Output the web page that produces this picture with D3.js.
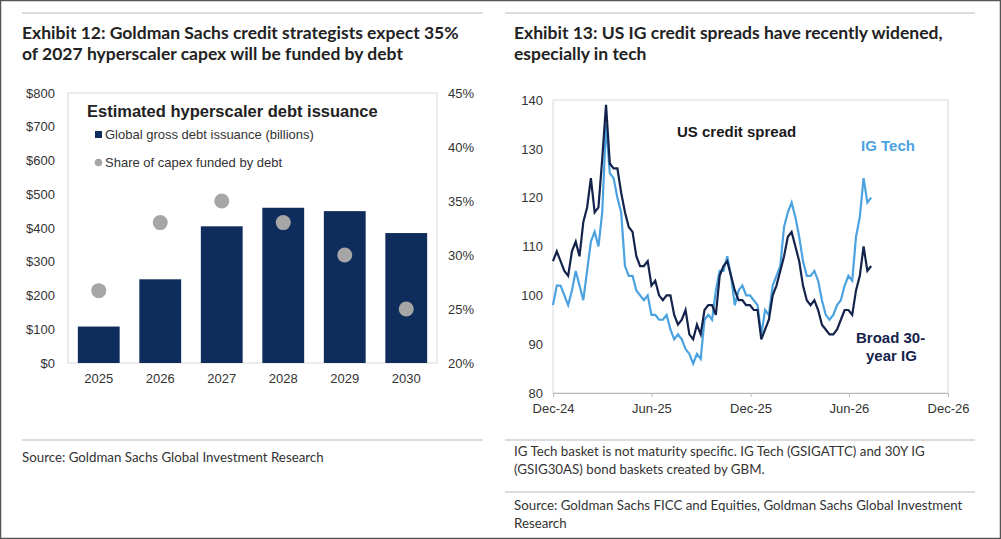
<!DOCTYPE html>
<html><head><meta charset="utf-8">
<script src="https://cdn.jsdelivr.net/npm/d3@7"></script>
<style>body{margin:0;background:#fff}svg{display:block}</style>
</head><body>
<svg id="c" width="1001" height="539"></svg>
<script>
const years = ["2025","2026","2027","2028","2029","2030"];
const issuance = [108, 248, 405, 460, 450, 385];
const shareCapex = [26.7, 33.0, 35.0, 33.0, 30.0, 25.0];
const leftTicks = [0,100,200,300,400,500,600,700,800];
const rightTicks = [20,25,30,35,40,45];

const weekStart = "2024-12-01";
const broadIG = [107,109,107,105,104,109,111,108,115,118,124,117,118,128,139,127,126,126,121,117,114,113,108,106,106,107,102,103,100,99,100,100,96,94,95,97,92,91,94,92,97,98,98,96,104,106,107,104,101,99,99,98,98,97,97,91,93,95,100,102,105,108,112,113,110,107,102,99,98,99,97,94,93,92,92,93,95,97,97,96,101,104,110,105,106];
const igTech = [98,102,102,100,98,101,105,102,99,105,111,113,110,117,135,125,124,120,117,106,104,104,101,100,99,100,96,96,95,95,96,93,91,92,91,89,88,86,88,87,95,96,95,101,105,105,108,104,98,101,102,100,100,99,98,92,97,96,102,104,106,114,117,119,116,112,107,104,104,105,103,99,96,95,96,98,99,102,104,103,112,116,124,119,120];
const spreadTicks = [80,90,100,110,120,130,140];
const dateTicks = ["2024-12-01","2025-06-01","2025-12-01","2026-06-01","2026-12-01"];

const svg = d3.select("#c");
const NAVY = "#0f2d5c", GREY = "#a6a6a6", LBLUE = "#4ba2e0", DARK = "#14234b";
const chartFont = "Liberation Sans, Arial, sans-serif";
const textFont = "Lato, sans-serif";

svg.append("rect").attr("x",0.5).attr("y",0.5).attr("width",1000).attr("height",538).attr("fill","none").attr("stroke","#555").attr("stroke-width",1.5);
[[22,483,13],[505,975,13],[22,483,440],[505,975,440],[505,975,492]].forEach(([a,b,y])=>
  svg.append("line").attr("x1",a).attr("x2",b).attr("y1",y).attr("y2",y).attr("stroke","#d0d0d0").attr("stroke-width",1.5));

function title(x, lines){
  lines.forEach((t,i)=>svg.append("text").attr("x",x).attr("y",39+i*21).text(t)
    .attr("font-family",textFont).attr("font-weight","bold").attr("font-size",17.5).attr("fill","#222"));
}
title(22,["Exhibit 12: Goldman Sachs credit strategists expect 35%","of 2027 hyperscaler capex will be funded by debt"]);
title(514,["Exhibit 13: US IG credit spreads have recently widened,","especially in tech"]);

function small(x,y,t){svg.append("text").attr("x",x).attr("y",y).text(t).attr("font-family",textFont).attr("font-size",13.3).attr("fill","#333");}
small(22,462,"Source: Goldman Sachs Global Investment Research");
small(514,456,"IG Tech basket is not maturity specific. IG Tech (GSIGATTC) and 30Y IG");
small(514,474,"(GSIG30AS) bond baskets created by GBM.");
small(514,510,"Source: Goldman Sachs FICC and Equities, Goldman Sachs Global Investment");
small(514,528,"Research");

// ---- Left chart
const L = {l:68, r:437, t:93, b:363};
const x = d3.scaleBand().domain(years).range([L.l,L.r]).paddingInner(0.32).paddingOuter(0.16);
const yL = d3.scaleLinear().domain([0,800]).range([L.b,L.t]);
const yR = d3.scaleLinear().domain([20,45]).range([L.b,L.t]);
svg.append("rect").attr("x",L.l).attr("y",L.t).attr("width",L.r-L.l).attr("height",L.b-L.t).attr("fill","none").attr("stroke","#d9d9d9");
svg.selectAll(".bar").data(years).join("rect").attr("x",d=>x(d)).attr("width",x.bandwidth())
  .attr("y",(d,i)=>yL(issuance[i])).attr("height",(d,i)=>L.b-yL(issuance[i])).attr("fill",NAVY);
svg.selectAll(".dot").data(years).join("circle").attr("cx",d=>x(d)+x.bandwidth()/2).attr("cy",(d,i)=>yR(shareCapex[i])).attr("r",7.5).attr("fill",GREY);
const axL = svg.append("g").attr("transform",`translate(${L.l-10},0)`).call(d3.axisLeft(yL).tickValues(leftTicks).tickFormat(d=>"$"+d).tickSize(0));
const axR = svg.append("g").attr("transform",`translate(${L.r+8},0)`).call(d3.axisRight(yR).tickValues(rightTicks).tickFormat(d=>d+"%").tickSize(0));
const axB = svg.append("g").attr("transform",`translate(0,${L.b+8})`).call(d3.axisBottom(x).tickSize(0));
[axL,axR,axB].forEach(a=>{a.select(".domain").remove();a.selectAll("text").attr("font-family",chartFont).attr("font-size",13).attr("fill","#333");});
svg.append("text").attr("x",87).attr("y",117).text("Estimated hyperscaler debt issuance").attr("font-family",chartFont).attr("font-weight","bold").attr("font-size",16.5).attr("fill","#222");
svg.append("rect").attr("x",95).attr("y",131).attr("width",7).attr("height",7).attr("fill",NAVY);
svg.append("text").attr("x",105).attr("y",139).text("Global gross debt issuance (billions)").attr("font-family",chartFont).attr("font-size",13).attr("fill","#333");
svg.append("circle").attr("cx",98.5).attr("cy",162.5).attr("r",3.8).attr("fill",GREY);
svg.append("text").attr("x",105).attr("y",167).text("Share of capex funded by debt").attr("font-family",chartFont).attr("font-size",13).attr("fill","#333");

// ---- Right chart
const R = {l:553, r:948, t:100, b:393};
const parse = d3.utcParse("%Y-%m-%d");
const start = parse(weekStart);
const dates = broadIG.map((d,i)=>d3.utcWeek.offset(start,i));
const xt = d3.scaleUtc().domain([parse(dateTicks[0]),parse(dateTicks[4])]).range([R.l,R.r]);
const ys = d3.scaleLinear().domain([80,140]).range([R.b,R.t]);
svg.append("rect").attr("x",R.l).attr("y",R.t).attr("width",R.r-R.l).attr("height",R.b-R.t).attr("fill","none").attr("stroke","#d9d9d9");
const line = d3.line().x((d,i)=>xt(dates[i])).y(d=>ys(d));
svg.append("path").datum(igTech).attr("d",line).attr("fill","none").attr("stroke",LBLUE).attr("stroke-width",2.2);
svg.append("path").datum(broadIG).attr("d",line).attr("fill","none").attr("stroke",DARK).attr("stroke-width",2.2);
const axS = svg.append("g").attr("transform",`translate(${R.l-7},0)`).call(d3.axisLeft(ys).tickValues(spreadTicks).tickSize(0));
const axT = svg.append("g").attr("transform",`translate(0,${R.b})`).call(d3.axisBottom(xt).tickValues(dateTicks.map(parse)).tickFormat(d3.utcFormat("%b-%y")).tickSize(4).tickPadding(7));
axS.select(".domain").remove();
axT.select(".domain").attr("stroke","#bbb"); axT.selectAll("line").attr("stroke","#bbb");
[axS,axT].forEach(a=>a.selectAll("text").attr("font-family",chartFont).attr("font-size",13).attr("fill","#333"));
function ann(x,y,t,c){svg.append("text").attr("x",x).attr("y",y).text(t).attr("font-family",chartFont).attr("font-weight","bold").attr("font-size",15).attr("fill",c);}
ann(677,137,"US credit spread","#1a1a1a");
ann(861,151,"IG Tech",LBLUE);
ann(856,343,"Broad 30-",DARK);
ann(866,361,"year IG",DARK);
</script>
</body></html>
